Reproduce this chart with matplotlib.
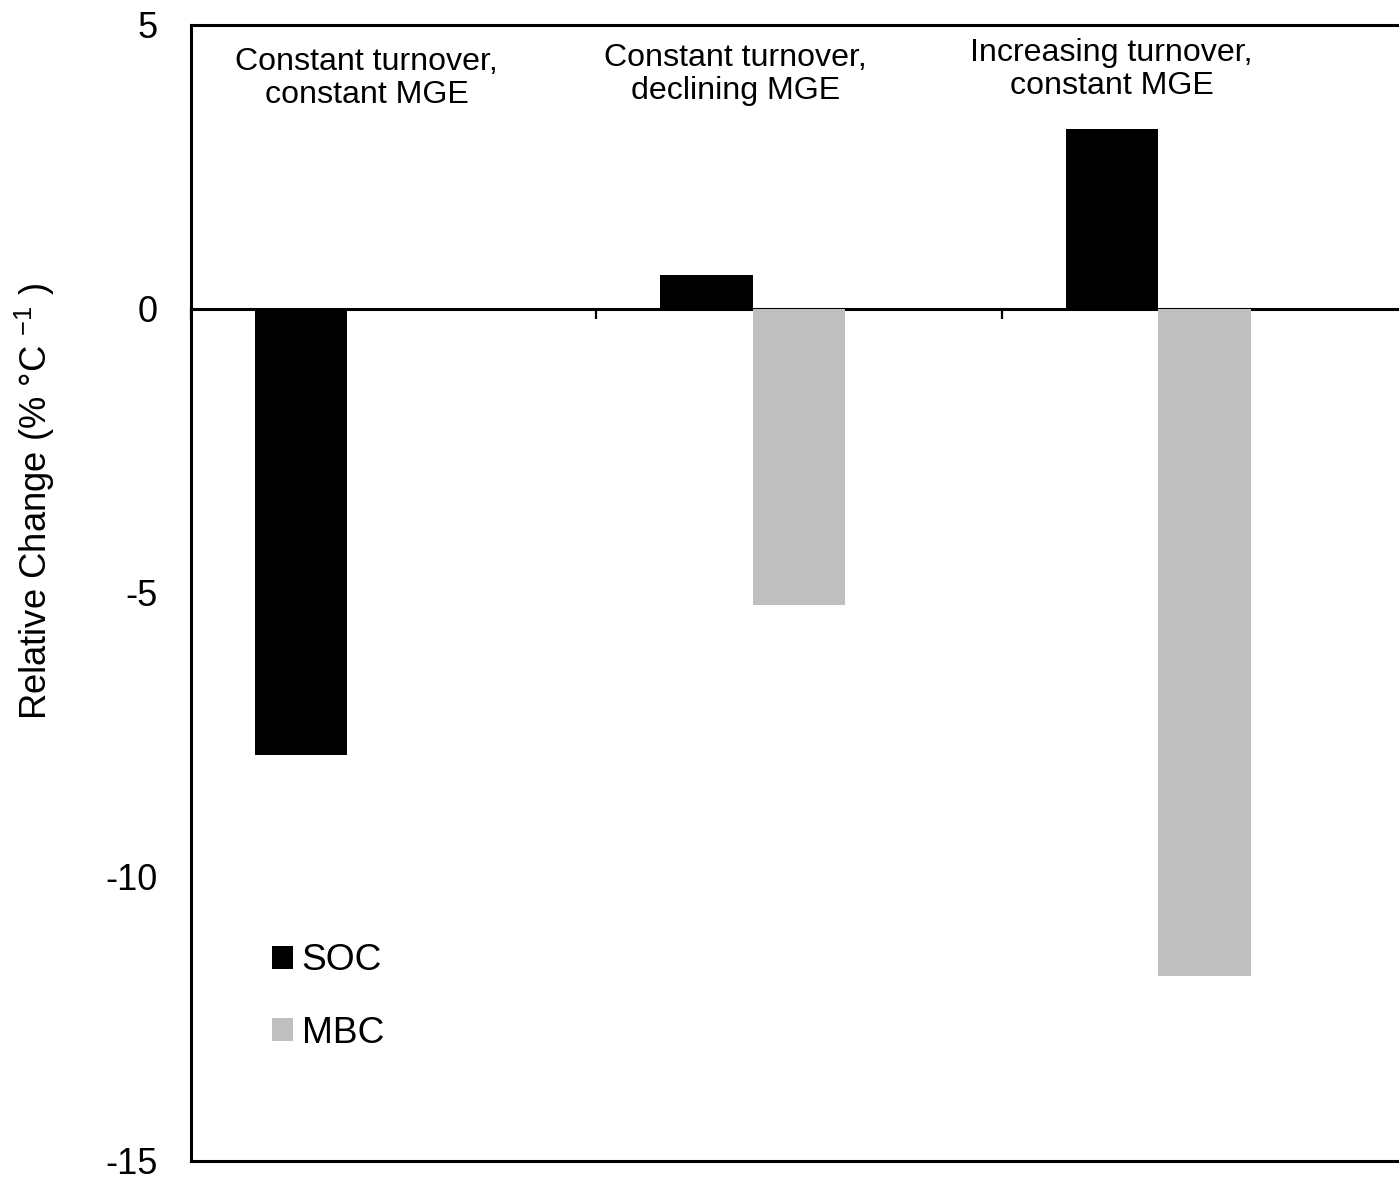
import numpy as np
import matplotlib
matplotlib.use("Agg")
import matplotlib.pyplot as plt

plt.rcParams['font.family'] = ['Liberation Sans', 'DejaVu Sans']
plt.rcParams['mathtext.fontset'] = 'custom'
plt.rcParams['mathtext.rm'] = 'Liberation Sans'
plt.rcParams['mathtext.it'] = 'Liberation Sans:italic'

# Scenario groups and the relative change of each pool
scenarios = ["Constant turnover,\nconstant MGE",
             "Constant turnover,\ndeclining MGE",
             "Increasing turnover,\nconstant MGE"]
soc = [-7.85, 0.59, 3.17]
mbc = [0.0, -5.21, -11.74]
yticks = [-15, -10, -5, 0, 5]

W, H = 1399, 1178
fig = plt.figure(figsize=(W / 100, H / 100), dpi=100)
ax = fig.add_axes([191 / W, (H - 1161) / H, 1216 / W, 1136 / H])

x = np.arange(len(scenarios))
width = 0.228
ax.bar(x - width, soc, width, color='black', label='SOC', zorder=2)
ax.bar(x, mbc, width, color='#bfbfbf', label='MBC', zorder=2)

ax.set_xlim(-0.5, len(scenarios) - 0.5)
ax.set_ylim(-15, 5)
ax.set_yticks(yticks)
ax.set_yticklabels([str(v) for v in yticks])
ax.tick_params(axis='y', length=0, pad=24, labelsize=26)
ax.set_xticks([])

for side in ['top', 'left', 'bottom', 'right']:
    ax.spines[side].set_linewidth(2.2)

# Zero line with category separator ticks
zero_pos = (0 - ax.get_ylim()[0]) / (ax.get_ylim()[1] - ax.get_ylim()[0])
sec = ax.secondary_xaxis(zero_pos)
sec.set_alignment('bottom')
sec.spines['bottom'].set_linewidth(2.2)
sec.set_xticks(np.arange(len(scenarios) + 1) - 0.5)
sec.set_xticklabels([''] * (len(scenarios) + 1))
sec.tick_params(axis='x', direction='out', length=7, width=1.6)

# Scenario titles
title_x = [-0.067, 0.844, 1.771]
title_y = [4.06, 4.13, 4.21]
for tx, ty, s in zip(title_x, title_y, scenarios):
    ax.text(tx, ty, s, ha='center', va='center', multialignment='center',
            fontsize=23.1, linespacing=1.12)

fig.text(35 / W, 1 - 502 / H, r"Relative Change (% °C $^{-1}$ )",
         rotation=90, ha='center', va='center', fontsize=26.2)

leg = ax.legend(loc='center left', bbox_to_anchor=(271.7 / W, 1 - 997 / H),
                bbox_transform=fig.transFigure, frameon=False, fontsize=26.7,
                handlelength=0.57, handleheight=0.57, handletextpad=0.24,
                labelspacing=1.0, borderpad=0, borderaxespad=0)

fig.savefig("out.png", dpi=100)
